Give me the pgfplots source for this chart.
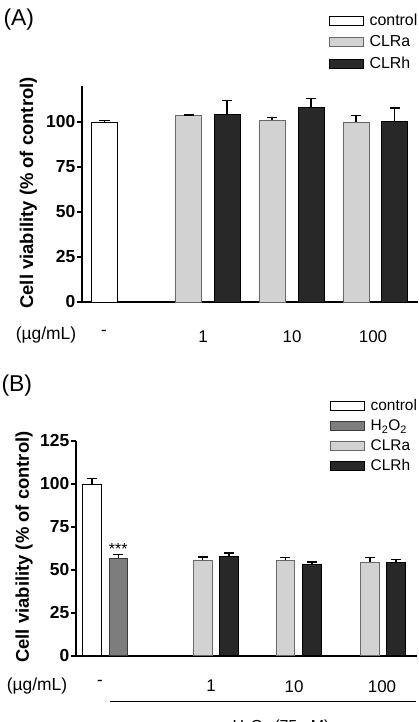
\documentclass[border=0pt]{standalone}
\usepackage{fontspec}
\setmainfont{Liberation Sans}
\usepackage{pgfplots}
\pgfplotsset{compat=1.18}

\definecolor{clra}{RGB}{210,210,210}
\definecolor{clraedge}{RGB}{105,105,105}
\definecolor{clrh}{RGB}{40,40,40}
\definecolor{hoo}{RGB}{125,125,125}
\definecolor{hooedge}{RGB}{60,60,60}

\newcommand{\fs}[1]{\fontsize{#1}{#1}\selectfont}

% Panel A: x = position in bp from the left end of the axis
\pgfplotstableread{
x y e
22.5 100.0 1.0
}\ActrlA
\pgfplotstableread{
x y e
106.5 103.5 0.4
190.0 101.0 1.5
274.0 100.0 3.5
}\AclrA
\pgfplotstableread{
x y e
145.0 104.0 7.8
229.0 108.3 4.7
312.5 100.2 7.6
}\AclrH

% Panel B
\pgfplotstableread{
x y e
16.0 100.0 3.3
}\BctrlB
\pgfplotstableread{
x y e
42.3 56.7 2.3
}\BhooB
\pgfplotstableread{
x y e
126.7 55.5 2.0
209.3 55.5 1.7
294.0 54.5 2.8
}\BclrA
\pgfplotstableread{
x y e
153.0 58.0 1.8
236.0 53.2 1.4
320.0 54.3 1.8
}\BclrH

\pgfplotsset{
  viab/.style={
    scale only axis,
    axis lines*=left,
    axis line style={line width=1.6bp, black},
    ymin=0,
    ytick={0,25,50,75,100,125},
    tick align=outside,
    major tick length=5bp,
    every tick/.style={line width=1.6bp, black},
    xtick style={draw=none},
    /pgf/number format/assume math mode=true,
    yticklabel style={font=\bfseries\fs{17.5}, inner sep=1.5bp},
    xticklabel style={font=\fs{17}},
    ylabel={Cell viability (\% of control)},
    ylabel style={font=\bfseries\fs{18.5}, anchor=center},
    ybar, bar shift=0pt,
    clip=false,
    legend cell align=left,
    legend style={draw=none, fill=none, inner sep=0pt, row sep=5.5bp,
      font=\fs{16}, anchor=north west,
      nodes={inner sep=1.5bp, text height=11bp, text depth=2bp}},
    legend image code/.code={
      \draw[#1, line width=1bp] (0bp,-4.5bp) rectangle (34bp,4.5bp);
      \path (38bp,0bp);},
    every axis plot/.append style={line width=0.8bp},
  },
  errs/.style={
    error bars/.cd, y dir=plus, y explicit,
    error bar style={line width=1.2bp, black},
    error mark options={rotate=90, line width=1.2bp, mark size=5bp, black},
  },
}

\begin{document}
\begin{tikzpicture}
\path[use as bounding box] (0,0) rectangle (419bp,722bp);
\clip (0,0) rectangle (419bp,722bp);

% ---------------- (A) ----------------
\node[font=\fs{23}, anchor=west] at (0bp,702bp) {(A)};
\begin{axis}[viab,
  at={(82bp,420bp)}, anchor=origin,
  width=336bp, height=216bp,
  xmin=0, xmax=336, ymax=120,
  bar width=26,
  xtick={22,121,210,291}, xticklabels={-,1,10,100},
  xticklabel style={yshift=-20bp},
  ylabel style={at={(axis description cs:-0.16,0.505)}},
  legend style={at={(axis description cs:0.735,1.34)}},
]
\addplot[fill=white, draw=black, errs] table[x=x, y=y, y error=e] {\ActrlA};
\addlegendentry{control}
\addplot[fill=clra, draw=clraedge, errs] table[x=x, y=y, y error=e] {\AclrA};
\addlegendentry{CLRa}
\addplot[fill=clrh, draw=black, errs] table[x=x, y=y, y error=e] {\AclrH};
\addlegendentry{CLRh}
\end{axis}
\node[font=\fs{17.5}] at (46bp,387bp) {(µg/mL)};

% ---------------- (B) ----------------
\node[font=\fs{23}, anchor=west] at (-2bp,336bp) {(B)};
\begin{axis}[viab,
  at={(76bp,66.3bp)}, anchor=origin,
  width=341bp, height=214.7bp,
  xmin=0, xmax=341, ymax=125,
  bar width=18.5,
  xtick={24,135,218,306}, xticklabels={-,1,10,100},
  xticklabel style={yshift=-16bp},
  ylabel style={at={(axis description cs:-0.152,0.506)}},
  legend style={at={(axis description cs:0.745,1.2),}, row sep=4bp, font=\fs{15.5}},
]
\addplot[fill=white, draw=black, errs] table[x=x, y=y, y error=e] {\BctrlB};
\addlegendentry{control}
\addplot[fill=hoo, draw=hooedge, errs] table[x=x, y=y, y error=e] {\BhooB};
\addlegendentry{H\textsubscript{2}O\textsubscript{2}}
\addplot[fill=clra, draw=clraedge, errs] table[x=x, y=y, y error=e] {\BclrA};
\addlegendentry{CLRa}
\addplot[fill=clrh, draw=black, errs] table[x=x, y=y, y error=e] {\BclrH};
\addlegendentry{CLRh}
\node[font=\fs{16}, anchor=base] at (axis cs:42.3,58.8) {***};
\end{axis}
\node[font=\fs{17.5}] at (37bp,36bp) {(µg/mL)};
\draw[line width=1.5bp] (110bp,20.3bp) -- (416bp,20.3bp);
\node[font=\fs{16}, anchor=north] at (281bp,6bp) {H\textsubscript{2}O\textsubscript{2} (75 µM)};
\end{tikzpicture}
\end{document}
